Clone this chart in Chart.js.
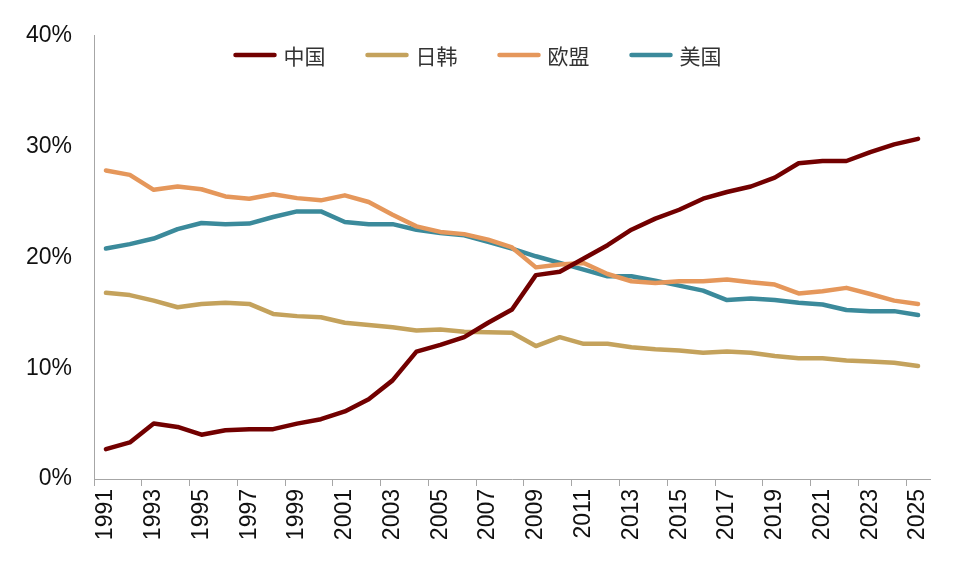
<!DOCTYPE html>
<html>
<head>
<meta charset="utf-8">
<script src="https://cdn.jsdelivr.net/npm/chart.js@4.4.1/dist/chart.umd.min.js"></script>
<style>
  html, body { margin: 0; padding: 0; background: #fff; }
  #wrap { width: 955px; height: 569px; }
</style>
</head>
<body>
<div id="wrap"><canvas id="chartShare"></canvas></div>
<script>
const years = [1991, 1992, 1993, 1994, 1995, 1996, 1997, 1998, 1999, 2000,
               2001, 2002, 2003, 2004, 2005, 2006, 2007, 2008, 2009, 2010,
               2011, 2012, 2013, 2014, 2015, 2016, 2017, 2018, 2019, 2020,
               2021, 2022, 2023, 2024, 2025];
const seriesNames = ['中国', '日韩', '欧盟', '美国'];

// share, %
const china = [2.7, 3.3, 5.0, 4.7, 4.0, 4.4, 4.5, 4.5, 5.0, 5.4,
               6.1, 7.2, 8.9, 11.5, 12.1, 12.8, 14.1, 15.3, 18.4, 18.7,
               19.9, 21.1, 22.5, 23.5, 24.3, 25.3, 25.9, 26.4, 27.2, 28.5,
               28.7, 28.7, 29.5, 30.2, 30.7];
const japanKorea = [16.8, 16.6, 16.1, 15.5, 15.8, 15.9, 15.8, 14.9, 14.7, 14.6,
                    14.1, 13.9, 13.7, 13.4, 13.5, 13.3, 13.25, 13.2, 12.0, 12.8,
                    12.2, 12.2, 11.9, 11.7, 11.6, 11.4, 11.5, 11.4, 11.1, 10.9,
                    10.9, 10.7, 10.6, 10.5, 10.2];
const eu = [27.85, 27.45, 26.1, 26.4, 26.15, 25.5, 25.3, 25.7, 25.35, 25.15,
            25.6, 25.0, 23.85, 22.8, 22.3, 22.1, 21.6, 20.9, 19.1, 19.35,
            19.5, 18.5, 17.85, 17.7, 17.85, 17.85, 18.0, 17.75, 17.55, 16.75,
            16.95, 17.25, 16.7, 16.1, 15.8];
const us = [20.8, 21.2, 21.7, 22.55, 23.1, 23.0, 23.05, 23.65, 24.15, 24.15,
            23.2, 23.0, 23.0, 22.5, 22.2, 22.0, 21.4, 20.8, 20.1, 19.5,
            18.9, 18.3, 18.3, 17.9, 17.45, 17.0, 16.15, 16.3, 16.15, 15.9,
            15.75, 15.25, 15.15, 15.15, 14.8];
const yTicks = [0, 10, 20, 30, 40];

const colors = ['#720000', '#c4a25c', '#e5975b', '#3b8a9b'];
const axisGray = '#a6a6a6';
const tickFont = { family: '"Liberation Sans", Arial, sans-serif', size: 23 };

function lineSet(label, data, color) {
    return {
        label: label,
        data: data,
        borderColor: color,
        backgroundColor: color,
        borderWidth: 4.5,
        borderCapStyle: 'round',
        borderJoinStyle: 'round',
        pointRadius: 0,
        tension: 0
    };
}

// legend sits inside the plot, centred on the page
const topLegend = {
    id: 'topLegend',
    afterDraw(chart) {
        const ctx = chart.ctx;
        const sets = chart.data.datasets;
        const lineW = 43, textGap = 7, itemGap = 40, y = 55;
        ctx.save();
        ctx.font = '21px "Noto Sans CJK SC"';
        const widths = sets.map(d => lineW + textGap + ctx.measureText(d.label).width);
        const total = widths.reduce((a, b) => a + b, 0) + itemGap * (sets.length - 1);
        let x = chart.width / 2 - total / 2;
        sets.forEach((d, i) => {
            ctx.strokeStyle = d.borderColor;
            ctx.lineWidth = 4.5;
            ctx.lineCap = 'round';
            ctx.beginPath();
            ctx.moveTo(x + 2, y);
            ctx.lineTo(x + lineW - 2, y);
            ctx.stroke();
            ctx.fillStyle = '#333';
            ctx.textBaseline = 'middle';
            ctx.textAlign = 'left';
            ctx.fillText(d.label, x + lineW + textGap, y + 1);
            x += widths[i] + itemGap;
        });
        ctx.restore();
    }
};

const ctxShare = document.getElementById('chartShare');
const chartShare = new Chart(ctxShare, {
    type: 'line',
    data: {
        labels: years,
        datasets: [
            lineSet(seriesNames[0], china, colors[0]),
            lineSet(seriesNames[1], japanKorea, colors[1]),
            lineSet(seriesNames[2], eu, colors[2]),
            lineSet(seriesNames[3], us, colors[3])
        ]
    },
    options: {
        responsive: true,
        maintainAspectRatio: false,
        animation: false,
        devicePixelRatio: 1,
        layout: { padding: { top: 32, right: 25, left: 0, bottom: 0 } },
        plugins: {
            legend: { display: false },
            tooltip: { enabled: false }
        },
        scales: {
            x: {
                type: 'category',
                offset: true,
                afterFit: (scale) => { scale.height = 90; },
                border: { color: axisGray, width: 1 },
                grid: {
                    offset: true,
                    drawOnChartArea: false,
                    drawTicks: true,
                    tickLength: 7,
                    tickColor: (c) => (c.index !== undefined && c.index % 2 === 0) ? axisGray : 'rgba(0,0,0,0)'
                },
                ticks: {
                    autoSkip: false,
                    minRotation: 90,
                    maxRotation: 90,
                    padding: 3,
                    color: '#111',
                    font: tickFont,
                    callback: (v, i) => i % 2 === 0 ? String(years[i]) : ''
                }
            },
            y: {
                min: yTicks[0],
                max: yTicks[yTicks.length - 1],
                afterFit: (scale) => { scale.width = 94; },
                afterBuildTicks: (scale) => { scale.ticks = yTicks.map(v => ({ value: v })); },
                border: { color: axisGray, width: 1 },
                grid: { display: false, drawTicks: false },
                ticks: {
                    padding: 22,
                    color: '#111',
                    font: tickFont,
                    callback: (v) => v + '%'
                }
            }
        }
    },
    plugins: [topLegend]
});
</script>
</body>
</html>
